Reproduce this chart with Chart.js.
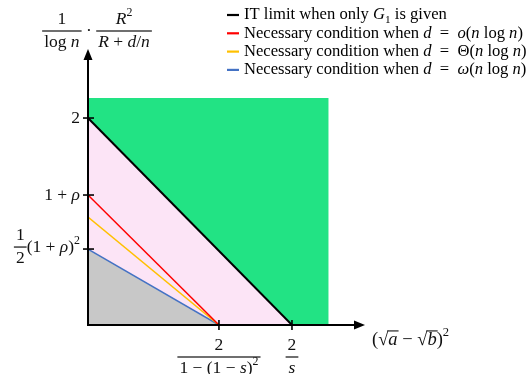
<!DOCTYPE html>
<html><head><meta charset="utf-8">
<script src="https://cdn.jsdelivr.net/npm/chart.js@4.4.1/dist/chart.umd.min.js"></script>
<style>html,body{margin:0;padding:0;background:#fff}#wrap{width:530px;height:374px}</style>
</head><body><div id="wrap"><canvas id="c" width="530" height="374"></canvas></div>
<script>
// ---- data (axis units) ----
const xTickValues = [1.284, 2];
const xTickLabels = ['[2|1 − (1 − _s_)^2]', '[2|_s_]'];
const yTickValues = [2, 1.256, 0.734];
const yTickLabels = ['2', '1 + _ρ_', '[1|2](1 + _ρ_)^2'];
const yAxisTitle = '[1|log _n_] · [_R_^2|_R_ + _d_/_n_]';
const xAxisTitle = '(√~_a_~ − √~_b_~)^2';

const itLimitX = [0, 2];        const itLimitY = [2, 0];
const condOX = [0, 1.284];      const condOY = [1.256, 0];
const condThetaX = [0, 1.284];  const condThetaY = [1.043, 0];
const condOmegaX = [0, 1.284];  const condOmegaY = [0.734, 0];
const achievableX = [0, 2.36];  const achievableY = [2.193, 2.193];

const legendLabels = [
  'IT limit when only _G_^1 is given',
  'Necessary condition when _d_\u2002=\u2002_o_(_n_ log _n_)',
  'Necessary condition when _d_\u2002=\u2002Θ(_n_ log _n_)',
  'Necessary condition when _d_\u2002=\u2002_ω_(_n_ log _n_)'
];
const legendColors = ['#000000', '#FF0000', '#FFC000', '#4472C4'];

const xMax = 2.716, yMax = 2.667;

function pts(xs, ys){ return xs.map((x,i)=>({x:x, y:ys[i]})); }

// ---- tiny math text renderer ----
const FONT = '"Liberation Serif", "Times New Roman", serif';
function parseRuns(str){
  const out=[]; let it=false, ov=false, buf='';
  const push=()=>{ if(buf) out.push({t:buf,i:it,ov:ov}); buf=''; };
  for(let i=0;i<str.length;i++){
    const c=str[i];
    if(c==='_'){ push(); it=!it; }
    else if(c==='~'){ push(); ov=!ov; }
    else if(c==='^'){ push(); out.push({t:str[i+1], i:false, sup:true}); i++; }
    else buf+=c;
  }
  push();
  return out;
}
function setFont(ctx, r, size){
  const s = r.sup ? size*0.68 : size;
  ctx.font = (r.i?'italic ':'') + s + 'px ' + FONT;
}
function runsWidth(ctx, runs, size){
  let w=0; runs.forEach(r=>{ setFont(ctx,r,size); w+=ctx.measureText(r.t).width; }); return w;
}
function drawRuns(ctx, runs, x, y, size){
  ctx.textBaseline='middle'; ctx.textAlign='left';
  runs.forEach(r=>{ setFont(ctx,r,size);
    const dy = r.sup ? (r.sub ? size*0.3 : -size*0.38) : 0;
    const w = ctx.measureText(r.t).width;
    ctx.fillText(r.t, x, y+dy);
    if(r.ov){ ctx.fillRect(x-1, y-size*0.52, w+2, 1.1); }
    x+=w; });
  return x;
}
function parseLabel(str){
  const parts=[]; const re=/\[([^|\]]*)\|([^\]]*)\]/g; let last=0, m;
  while((m=re.exec(str))){ if(m.index>last) parts.push({runs:parseRuns(str.slice(last,m.index))});
    parts.push({num:parseRuns(m[1]), den:parseRuns(m[2])}); last=re.lastIndex; }
  if(last<str.length) parts.push({runs:parseRuns(str.slice(last))});
  return parts;
}
function labelWidth(ctx, parts, size){
  let w=0; parts.forEach(p=>{ if(p.runs) w+=runsWidth(ctx,p.runs,size);
    else w+=Math.max(runsWidth(ctx,p.num,size),runsWidth(ctx,p.den,size))+4; }); return w;
}
function drawLabel(ctx, str, x, y, size, align, off){
  const parts=parseLabel(str); const w=labelWidth(ctx,parts,size);
  off = off || size*0.68;
  let cx = align==='right' ? x-w : align==='center' ? x-w/2 : x;
  parts.forEach(p=>{
    if(p.runs){ cx=drawRuns(ctx,p.runs,cx,y,size); }
    else { const wn=runsWidth(ctx,p.num,size), wd=runsWidth(ctx,p.den,size), fw=Math.max(wn,wd)+4;
      drawRuns(ctx,p.num,cx+(fw-wn)/2,y-off,size);
      drawRuns(ctx,p.den,cx+(fw-wd)/2,y+off,size);
      ctx.fillRect(cx, y-0.6, fw, 1.2);
      cx+=fw; }
  });
}

const overlay = {
  id:'overlay',
  afterDatasetsDraw(chart){
    const ctx=chart.ctx, xs=chart.scales.x, ys=chart.scales.y;
    const ox=xs.getPixelForValue(0), oy=ys.getPixelForValue(0);
    const tx=xs.getPixelForValue(xMax), ty=ys.getPixelForValue(yMax);
    ctx.save();
    ctx.strokeStyle='#000'; ctx.fillStyle='#000'; ctx.lineWidth=2;
    ctx.beginPath(); ctx.moveTo(ox, oy); ctx.lineTo(tx-8, oy); ctx.stroke();
    ctx.beginPath(); ctx.moveTo(ox, oy+1); ctx.lineTo(ox, ty+8); ctx.stroke();
    ctx.beginPath(); ctx.moveTo(tx,oy); ctx.lineTo(tx-11,oy-4.5); ctx.lineTo(tx-11,oy+4.5); ctx.closePath(); ctx.fill();
    ctx.beginPath(); ctx.moveTo(ox,ty); ctx.lineTo(ox-4.5,ty+11); ctx.lineTo(ox+4.5,ty+11); ctx.closePath(); ctx.fill();
    ctx.lineWidth=1.6;
    xTickValues.forEach(v=>{ const p=xs.getPixelForValue(v); ctx.beginPath(); ctx.moveTo(p,oy-5); ctx.lineTo(p,oy+5); ctx.stroke(); });
    yTickValues.forEach(v=>{ const p=ys.getPixelForValue(v); ctx.beginPath(); ctx.moveTo(ox-5,p); ctx.lineTo(ox+6,p); ctx.stroke(); });
    // tick labels
    ctx.fillStyle='#111';
    xTickValues.forEach((v,i)=>{ drawLabel(ctx, xTickLabels[i], xs.getPixelForValue(v), oy+32, 17.5, 'center', 11.5); });
    yTickValues.forEach((v,i)=>{ drawLabel(ctx, yTickLabels[i], ox-8, ys.getPixelForValue(v)-(i===2?2:0), 17.5, 'right', 11.5); });
    drawLabel(ctx, yAxisTitle, ox+9, ty-18, 17.5, 'center', 11.5);
    drawLabel(ctx, xAxisTitle, tx+7, oy+15, 18.5, 'left');
    // legend
    legendLabels.forEach((s,i)=>{ const y=15+i*18.3;
      ctx.strokeStyle=legendColors[i]; ctx.lineWidth=2.2;
      ctx.beginPath(); ctx.moveTo(227,y); ctx.lineTo(239,y); ctx.stroke();
      ctx.fillStyle='#000';
      const runs=parseRuns(s).map(r=> r.sup ? Object.assign({},r,{sub:true}) : r);
      drawRuns(ctx, runs, 244, y, 16.6);
    });
    ctx.restore();
  }
};

new Chart(document.getElementById('c'), {
  type:'line',
  data:{ datasets:[
    {data:pts(itLimitX,itLimitY), borderColor:'#000', borderWidth:2, pointRadius:0, fill:false, order:1},
    {data:pts(condOX,condOY), borderColor:'#FF0000', borderWidth:1.5, pointRadius:0, fill:false, order:2},
    {data:pts(condThetaX,condThetaY), borderColor:'#FFC000', borderWidth:1.5, pointRadius:0, fill:false, order:3},
    {data:pts(condOmegaX,condOmegaY), borderColor:'#4472C4', borderWidth:1.5, pointRadius:0, fill:false, order:4},
    {data:pts(condOmegaX,condOmegaY), borderWidth:0, borderColor:'rgba(0,0,0,0)', backgroundColor:'#C8C8C8', pointRadius:0, fill:'origin', order:5},
    {data:pts(itLimitX,itLimitY), borderWidth:0, borderColor:'rgba(0,0,0,0)', backgroundColor:'#FCE4F6', pointRadius:0, fill:'origin', order:6},
    {data:pts(achievableX,achievableY), borderWidth:0, borderColor:'rgba(0,0,0,0)', backgroundColor:'#22E384', pointRadius:0, fill:'origin', order:7}
  ]},
  options:{
    responsive:false, animation:false, events:[],
    layout:{padding:{left:88,right:165,top:49,bottom:49}},
    plugins:{legend:{display:false}, tooltip:{enabled:false}},
    scales:{
      x:{type:'linear', min:0, max:xMax, display:false},
      y:{type:'linear', min:0, max:yMax, display:false}
    }
  },
  plugins:[overlay]
});
</script></body></html>
